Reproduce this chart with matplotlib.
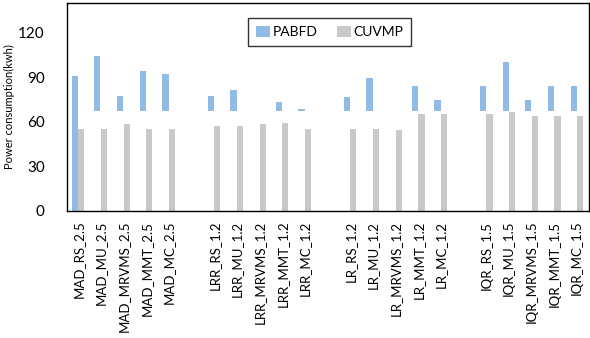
import matplotlib.pyplot as plt
import numpy as np

plt.rcParams['font.family'] = ['Lato', 'DejaVu Sans']

groups = ['MAD', 'LRR', 'LR', 'IQR']
suffixes = ['2.5', '1.2', '1.2', '1.5']
policies = ['RS', 'MU', 'MRVMS', 'MMT', 'MC']

# PABFD values (bars appear to float from ~67 except the first one)
pabfd = [91, 104, 77.5, 94, 92,
         77.5, 81.5, 66, 73.5, 68.7,
         76.4, 89.6, 66, 83.8, 74.8,
         84.2, 100, 74.8, 84.2, 84.2]
pabfd_base = [0, 67, 67, 67, 67,
              67, 67, 67, 67, 67,
              67, 67, 67, 67, 67,
              67, 67, 67, 67, 67]
cuvmp = [55.3, 55.3, 58.6, 55.3, 55.3,
         57.5, 57.5, 58.2, 59.3, 55.3,
         55.3, 55.3, 54.6, 65.4, 65.4,
         65.4, 66.7, 64.2, 64.2, 64.2]

labels = []
x = []
for gi, (g, s) in enumerate(zip(groups, suffixes)):
    for pi, p in enumerate(policies):
        labels.append(f'{g}_{p}_{s}')
        x.append(gi * 6 + pi)
x = np.array(x)

fig = plt.figure(figsize=(5.9, 3.38), dpi=100)
ax = fig.add_axes([0.1136, 0.376, 0.884, 0.615])

heights = np.maximum(np.array(pabfd) - np.array(pabfd_base), 0)
w = 0.27
ax.bar(x - 0.16, heights, w, bottom=pabfd_base, color='#8FBBE4', label='PABFD')
ax.bar(x + 0.13, cuvmp, w, color='#C9C9C9', label='CUVMP')

ax.set_xlim(-0.5, 22.5)
ax.set_ylim(0, 140)
ax.set_yticks([0, 30, 60, 90, 120])
ax.set_xticks(x)
ax.set_xticklabels(labels, rotation=90, fontsize=9.5)
ax.tick_params(axis='y', labelsize=11, length=0, pad=16)
ax.tick_params(axis='x', length=0, pad=7)
ax.set_ylabel('Power consumption(kwh)', fontsize=8, labelpad=2)

for sp in ax.spines.values():
    sp.set_color('black')
    sp.set_linewidth(1)

leg = ax.legend(loc='upper center', ncol=2, fontsize=10, frameon=True,
                fancybox=False, edgecolor='black', handlelength=1.0,
                handleheight=0.8, columnspacing=1.4, handletextpad=0.2,
                borderpad=0.55, bbox_to_anchor=(0.504, 0.96))
leg.get_frame().set_linewidth(1)

fig.savefig('out.png', dpi=100)
